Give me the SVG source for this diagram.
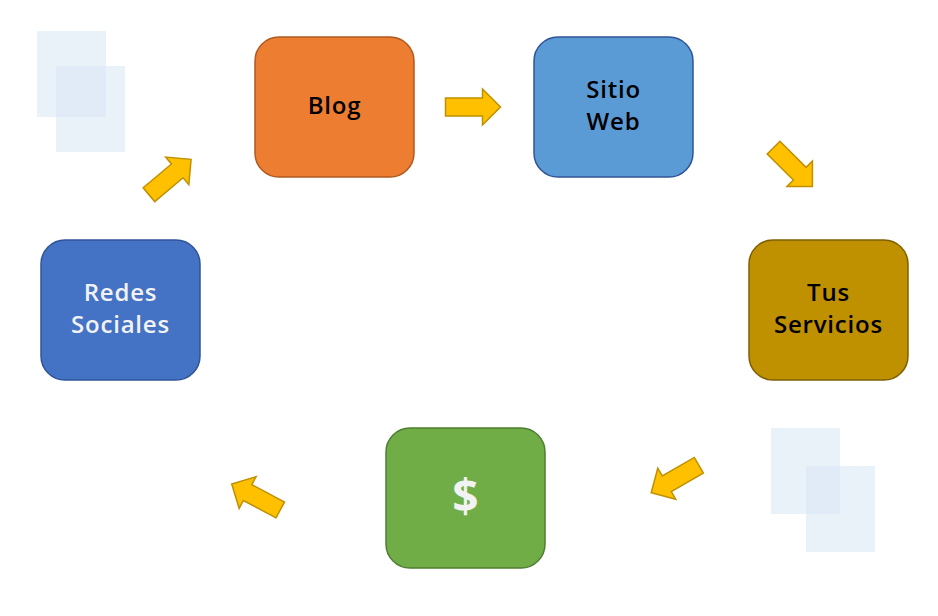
<svg xmlns="http://www.w3.org/2000/svg" width="938" height="616" viewBox="0 0 938 616">
<style>
.box{stroke-width:1.5}
.t{font-family:"Open Sans","DejaVu Sans",sans-serif;font-size:24px;font-weight:600;letter-spacing:0.8px;text-anchor:middle}
.arr{fill:#ffc000;stroke:#bf9000;stroke-width:1.5;stroke-linejoin:miter}
.deco{fill:#dae8f5;opacity:0.6}
</style>
<defs>
<path id="ar" d="M-27.5,-9 L9.5,-9 L9.5,-18 L27.5,0 L9.5,18 L9.5,9 L-27.5,9 Z"/>
</defs>
<rect width="938" height="616" fill="#ffffff"/>
<g id="decor">
<rect class="deco" x="37" y="31" width="69" height="86"/>
<rect class="deco" x="56" y="66" width="69" height="86"/>
<rect class="deco" x="771" y="428" width="69" height="86"/>
<rect class="deco" x="806" y="466" width="69" height="86"/>
</g>
<g id="connectors">
<use href="#ar" class="arr" transform="translate(473,107)"/>
<use href="#ar" class="arr" transform="translate(793,167) rotate(45)"/>
<use href="#ar" class="arr" transform="translate(675,479) rotate(150)"/>
<use href="#ar" class="arr" transform="translate(256,497) rotate(208)"/>
<use href="#ar" class="arr" transform="translate(170,177) rotate(-40)"/>
</g>
<g id="blog">
<rect class="box" x="255" y="37" width="159" height="140" rx="24" fill="#ed7d31" stroke="#ae5a21"/>
<text class="t" x="334.5" y="114" fill="#000">Blog</text>
</g>
<g id="sitio">
<rect class="box" x="534" y="37" width="159" height="140" rx="24" fill="#5b9bd5" stroke="#2f5597"/>
<text class="t" x="613.5" y="98" fill="#000">Sitio</text>
<text class="t" x="613.5" y="130" fill="#000">Web</text>
</g>
<g id="servicios">
<rect class="box" x="749" y="240" width="159" height="140" rx="24" fill="#bf9000" stroke="#7f6000"/>
<text class="t" x="828.5" y="301" fill="#000">Tus</text>
<text class="t" x="828.5" y="333" fill="#000">Servicios</text>
</g>
<g id="dinero">
<rect class="box" x="386" y="428" width="159" height="140" rx="24" fill="#70ad47" stroke="#507e32"/>
<text class="t" x="465.5" y="513" fill="#f2f2f2" style="font-size:46px;font-weight:bold;letter-spacing:0">$</text>
</g>
<g id="redes">
<rect class="box" x="41" y="240" width="159" height="140" rx="24" fill="#4472c4" stroke="#2f5597"/>
<text class="t" x="120.5" y="301" fill="#f2f2f2">Redes</text>
<text class="t" x="120.5" y="333" fill="#f2f2f2">Sociales</text>
</g>
</svg>
